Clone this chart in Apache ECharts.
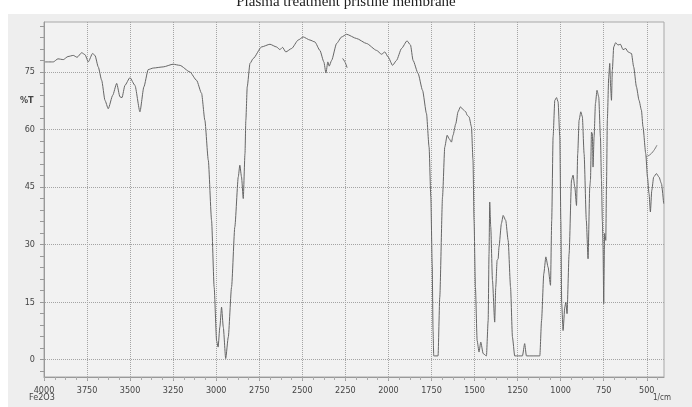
<!DOCTYPE html>
<html>
<head>
<meta charset="utf-8">
<script src="https://cdn.jsdelivr.net/npm/echarts@6/dist/echarts.min.js"></script>
<style>
html,body{margin:0;padding:0;background:#ffffff;}
#chart{width:692px;height:407px;}
</style>
</head>
<body>
<div id="chart"></div>
<script>
// Wavenumber (1/cm) and %T
const wavenumbers = [3994,3946,3919,3888,3861,3830,3808,3781,3762,3743,3718,3704,3685,3665,3646,3627,3601,3578,3559,3547,3530,3501,3472,3443,3420,3395,3366,3308,3250,3211,3153,3114,3085,3066,3046,3027,3012,2998,2989,2979,2969,2959,2945,2930,2911,2892,2872,2863,2853,2843,2833,2828,2820,2804,2785,2737,2688,2650,2630,2615,2596,2562,2524,2495,2456,2427,2398,2375,2363,2352,2344,2330,2301,2272,2243,2185,2127,2069,2040,2021,2002,1976,1953,1924,1892,1872,1857,1828,1802,1779,1764,1754,1746,1741,1737,1712,1702,1686,1673,1659,1648,1634,1625,1609,1596,1582,1567,1551,1543,1532,1518,1509,1503,1495,1485,1474,1464,1450,1431,1421,1416,1412,1406,1396,1383,1377,1369,1363,1358,1344,1334,1319,1305,1291,1280,1267,1222,1209,1199,1121,1111,1098,1086,1073,1059,1052,1044,1034,1024,1015,1005,999,994,986,976,970,963,951,937,928,918,908,901,893,883,874,864,851,841,831,827,821,816,812,806,798,789,779,769,763,758,754,750,745,738,734,729,721,715,710,705,700,692,681,667,653,638,622,609,589,576,560,545,531,522,506,496,487,479,471,460,444,429,415,402];
const transmittance = [77.6,77.6,78.4,78.2,79.0,79.3,78.8,80.0,79.5,77.6,79.8,79.3,76.3,72.8,67.6,65.4,68.9,72.0,68.5,68.3,71.5,73.5,71.5,64.6,71.1,75.6,76.0,76.3,77.0,76.7,75.0,72.8,69.4,62.4,52.0,36.3,18.9,5.0,3.3,8.5,13.7,8.5,0.3,5.9,18.9,34.6,47.6,50.7,47.6,42.0,53.7,62.4,71.1,77.2,78.5,81.5,82.2,81.5,80.8,81.4,80.2,81.1,83.3,84.1,83.3,82.8,80.6,77.6,74.7,77.6,76.5,78.0,82.4,84.1,84.8,83.7,82.4,80.6,79.6,80.2,78.9,76.7,78.0,81.1,83.1,82.0,78.0,74.6,70.2,64.1,55.4,42.4,25.0,7.6,1.0,1.0,16.3,42.4,55.4,58.5,57.6,56.7,58.5,61.5,64.6,65.9,65.2,64.6,63.7,63.3,60.7,52.0,36.3,18.9,5.0,2.0,4.6,1.6,1.0,10.2,27.6,41.1,34.6,20.7,9.8,18.9,25.9,26.3,29.4,35.5,37.6,36.3,31.1,18.9,5.9,1.0,1.0,4.2,1.0,1.0,10.2,22.4,26.8,24.1,19.4,36.3,58.0,67.6,68.3,67.2,58.0,36.3,14.6,7.6,13.7,15.0,12.0,27.6,46.8,48.1,45.0,40.2,53.7,62.4,64.6,63.3,53.7,36.3,26.3,45.0,46.8,59.3,58.9,50.2,58.0,66.8,70.2,68.5,58.0,46.8,36.3,29.4,14.6,32.9,31.1,45.0,62.4,73.7,77.2,71.1,67.6,75.4,81.5,82.6,82.0,82.2,80.8,81.1,80.2,79.8,76.3,71.1,67.6,65.0,60.7,53.7,47.6,43.3,38.5,44.1,47.6,48.5,47.6,45.9,40.7];
// small stray pen marks on the scan
const markA_wn = [505,472,441];
const markA_t = [52.8,53.8,55.9];
const markB_wn = [2266,2252,2240];
const markB_t = [78.5,77.6,76.1];

const xTickLabels = [4000,3750,3500,3250,3000,2750,2500,2250,2000,1750,1500,1250,1000,750,500];
const xMinorTicks = [];
for (let v = 4000; v >= 400; v -= 62.5) xMinorTicks.push(v);
const yTickLabels = [0,15,30,45,60,75];
const yMinorTicks = [-3,0,3,6,9,12,15,18,21,24,27,30,33,36,39,42,45,48,51,54,57,60,63,66,69,72,75,78,81,84,87];
const xGrid = xTickLabels.filter(v => v < 4000);
const yGrid = yTickLabels;

const zip = (a, b) => a.map((v, i) => [v, b[i]]);
const font = "'Liberation Sans Narrow','DejaVu Sans Condensed','Liberation Sans',Arial,sans-serif";
const plain = v => String(v);

const chart = echarts.init(document.getElementById('chart'), null, {renderer: 'canvas'});
chart.setOption({
  animation: false,
  backgroundColor: '#ffffff',
  title: {
    text: 'Plasma treatment pristine membrane',
    left: 'center',
    top: -10,
    textStyle: {fontFamily: "'Liberation Serif','Times New Roman',serif", fontSize: 15, fontWeight: 'normal', color: '#222'}
  },
  graphic: [
    {type: 'rect', z: -10, shape: {x: 8, y: 14, width: 684, height: 393}, style: {fill: '#eeeeee'}},
    {type: 'text', left: 20, top: 96, style: {text: '%T', font: "bold 9px " + font, fill: '#444'}},
    {type: 'text', left: 29, top: 393, style: {text: 'Fe2O3', font: "9px " + font, fill: '#444'}},
    {type: 'text', left: 653, top: 394, style: {text: '1/cm', font: "8px " + font, fill: '#444'}}
  ],
  grid: {left: 44, right: 28, top: 22, bottom: 30, show: true, backgroundColor: '#f2f2f2', borderColor: '#a8a8a8', borderWidth: 1},
  xAxis: [
    {
      type: 'value', min: 400, max: 4000, inverse: true, position: 'bottom',
      axisLine: {show: true, onZero: false, lineStyle: {color: '#999', width: 1}},
      axisTick: {show: true, length: 4, customValues: xTickLabels, lineStyle: {color: '#999'}},
      axisLabel: {show: true, customValues: xTickLabels, formatter: plain, margin: 9, fontSize: 9, fontFamily: font, color: '#444'},
      splitLine: {show: false}
    },
    {
      type: 'value', min: 400, max: 4000, inverse: true, position: 'bottom',
      axisLine: {show: false, onZero: false},
      axisTick: {show: true, length: 3, customValues: xMinorTicks, lineStyle: {color: '#aaa'}},
      axisLabel: {show: false},
      splitLine: {show: false}
    }
  ],
  yAxis: {
    type: 'value', min: -4.5, max: 88,
    axisLine: {show: true, lineStyle: {color: '#999', width: 1}},
    axisTick: {show: true, length: 4, customValues: yMinorTicks, lineStyle: {color: '#999'}},
    axisLabel: {show: true, customValues: yTickLabels, formatter: plain, margin: 9, fontSize: 9, fontFamily: font, color: '#444'},
    splitLine: {show: false}
  },
  series: [
    {
      type: 'line', xAxisIndex: 0, data: zip(wavenumbers, transmittance), showSymbol: false, smooth: 0.2, smoothMonotone: 'x',
      lineStyle: {color: '#666666', width: 1}, z: 5,
      markLine: {
        silent: true, symbol: 'none', label: {show: false},
        lineStyle: {type: 'dotted', color: '#a4a4a4', width: 1},
        data: xGrid.map(v => ({xAxis: v})).concat(yGrid.map(v => ({yAxis: v})))
      }
    },
    {type: 'line', xAxisIndex: 0, data: zip(markA_wn, markA_t), showSymbol: false, smooth: true, lineStyle: {color: '#7a7a7a', width: 1}},
    {type: 'line', xAxisIndex: 0, data: zip(markB_wn, markB_t), showSymbol: false, lineStyle: {color: '#6a6a6a', width: 1}}
  ]
});
</script>
</body>
</html>
